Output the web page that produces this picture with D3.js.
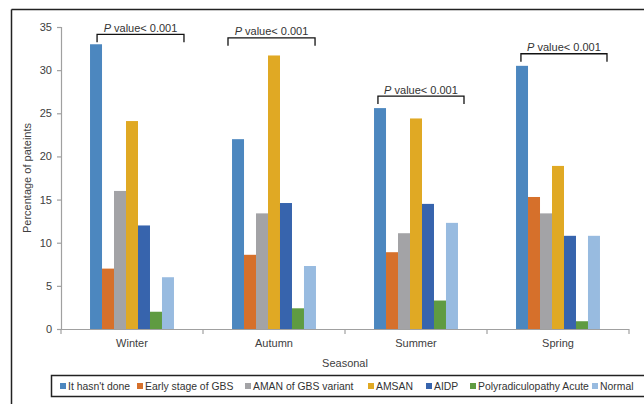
<!DOCTYPE html>
<html>
<head>
<meta charset="utf-8">
<script src="https://cdn.jsdelivr.net/npm/d3@7"></script>
<style>
  html, body { margin: 0; padding: 0; background: #fff; }
  svg { display: block; font-family: "Liberation Sans", Arial, sans-serif; }
</style>
</head>
<body>
<svg id="chart" width="644" height="404"></svg>
<script>
// ---- data ----
const seasons = ["Winter", "Autumn", "Summer", "Spring"];
const seriesNames = ["It hasn't done", "Early stage of GBS", "AMAN of GBS variant", "AMSAN", "AIDP", "Polyradiculopathy Acute", "Normal"];
const itHasntDone   = [33.0, 22.0, 25.6, 30.5];
const earlyStage    = [7.0, 8.6, 8.9, 15.3];
const amanVariant   = [16.0, 13.4, 11.1, 13.4];
const amsan         = [24.1, 31.7, 24.4, 18.9];
const aidp          = [12.0, 14.6, 14.5, 10.8];
const polyAcute     = [2.0, 2.4, 3.3, 0.9];
const normal        = [6.0, 7.3, 12.3, 10.8];
const yTicks = [0, 5, 10, 15, 20, 25, 30, 35];
const pLabel = ["P", " value< 0.001"];
// bracket annotation: level in data units, span as fraction of season band
const bracketLevel = [34.15, 33.75, 27.0, 31.9];
const bracketFrom  = [0.254, 0.176, 0.232, 0.239];
const bracketTo    = [0.866, 0.789, 0.838, 0.845];

const seriesValues = [itHasntDone, earlyStage, amanVariant, amsan, aidp, polyAcute, normal];
const colors = ["#4c87bf", "#d6702b", "#a3a3a6", "#e0a924", "#3764ad", "#5f9b41", "#98bbe0"];

(function () {
// ---- layout ----
const svg = d3.select("#chart");
const mLeft = 61, mRight = 629, mTop = 27, mBottom = 329;
const textColor = "#404040";
const axisColor = "#a0a0a0";

// outer frame (top and left lines)
svg.append("line").attr("x1", 11.5).attr("x2", 644).attr("y1", 9.5).attr("y2", 9.5)
  .attr("stroke", "#222").attr("stroke-width", 1.5);
svg.append("line").attr("x1", 11.5).attr("x2", 11.5).attr("y1", 9.5).attr("y2", 404)
  .attr("stroke", "#222").attr("stroke-width", 1.5);

const x0 = d3.scaleBand().domain(seasons).range([mLeft, mRight]).paddingInner(0).paddingOuter(0);
const x1 = d3.scaleBand().domain(seriesNames).range([0, x0.bandwidth()]).paddingInner(0).paddingOuter(2.42);
const y = d3.scaleLinear().domain([0, 35]).range([mBottom, mTop]);

// y axis
const yAxis = svg.append("g").attr("transform", `translate(${mLeft},0)`)
  .call(d3.axisLeft(y).tickValues(yTicks).tickSize(4).tickPadding(5));
yAxis.select(".domain").attr("stroke", axisColor).attr("stroke-width", 1.2);
yAxis.selectAll(".tick line").attr("stroke", axisColor).attr("stroke-width", 1.2);
yAxis.selectAll(".tick text").attr("fill", textColor).style("font-size", "11px")
  .style("font-family", "'Liberation Sans', Arial, sans-serif");

// bars
seasons.forEach((s, si) => {
  const g = svg.append("g").attr("transform", `translate(${x0(s)},0)`);
  g.selectAll("rect").data(seriesNames).join("rect")
    .attr("x", d => x1(d))
    .attr("width", x1.bandwidth())
    .attr("y", (d, i) => y(seriesValues[i][si]))
    .attr("height", (d, i) => y(0) - y(seriesValues[i][si]))
    .attr("fill", (d, i) => colors[i]);
});

// x axis
const xAxisG = svg.append("g").attr("transform", `translate(0,${mBottom})`);
xAxisG.append("line").attr("x1", mLeft).attr("x2", mRight).attr("y1", 0.5).attr("y2", 0.5)
  .attr("stroke", axisColor).attr("stroke-width", 1.2);
const boundaries = seasons.map(s => x0(s)).concat([mRight]);
xAxisG.selectAll("line.tk").data(boundaries).join("line").attr("class", "tk")
  .attr("x1", d => d).attr("x2", d => d).attr("y1", 0).attr("y2", 5)
  .attr("stroke", axisColor).attr("stroke-width", 1.2);
xAxisG.selectAll("text").data(seasons).join("text")
  .attr("x", d => x0(d) + x0.bandwidth() / 2).attr("y", 18)
  .attr("text-anchor", "middle").attr("fill", textColor).style("font-size", "11px")
  .text(d => d);

// axis titles
svg.append("text").attr("x", (mLeft + mRight) / 2).attr("y", 367)
  .attr("text-anchor", "middle").attr("fill", textColor).style("font-size", "11px").text("Seasonal");
svg.append("text").attr("transform", `translate(31,${(mTop + mBottom) / 2}) rotate(-90)`)
  .attr("text-anchor", "middle").attr("fill", textColor).style("font-size", "11px")
  .text("Percentage of pateints");

// p-value brackets
seasons.forEach((s, si) => {
  const bx0 = x0(s) + bracketFrom[si] * x0.bandwidth();
  const bx1 = x0(s) + bracketTo[si] * x0.bandwidth();
  const by = y(bracketLevel[si]);
  svg.append("path")
    .attr("d", `M${bx0},${by + 8}V${by}H${bx1}V${by + 8}`)
    .attr("fill", "none").attr("stroke", "#111").attr("stroke-width", 1.3);
  const t = svg.append("text").attr("x", (bx0 + bx1) / 2).attr("y", by - 2.5)
    .attr("text-anchor", "middle").attr("fill", "#333").style("font-size", "11px");
  t.append("tspan").style("font-style", "italic").text(pLabel[0]);
  t.append("tspan").text(pLabel[1]);
});

// legend
const legendX = [60, 137, 245, 368, 426, 470, 592];
const lg = svg.append("g");
lg.append("rect").attr("x", 51.5).attr("y", 375.5).attr("width", 600).attr("height", 21)
  .attr("fill", "none").attr("stroke", "#222").attr("stroke-width", 1.5);
seriesNames.forEach((n, i) => {
  lg.append("rect").attr("x", legendX[i]).attr("y", 383).attr("width", 6).attr("height", 6)
    .attr("fill", colors[i]);
  lg.append("text").attr("x", legendX[i] + 8).attr("y", 390)
    .attr("fill", "#333").style("font-size", "10.4px").text(n);
});
})();
</script>
</body>
</html>
